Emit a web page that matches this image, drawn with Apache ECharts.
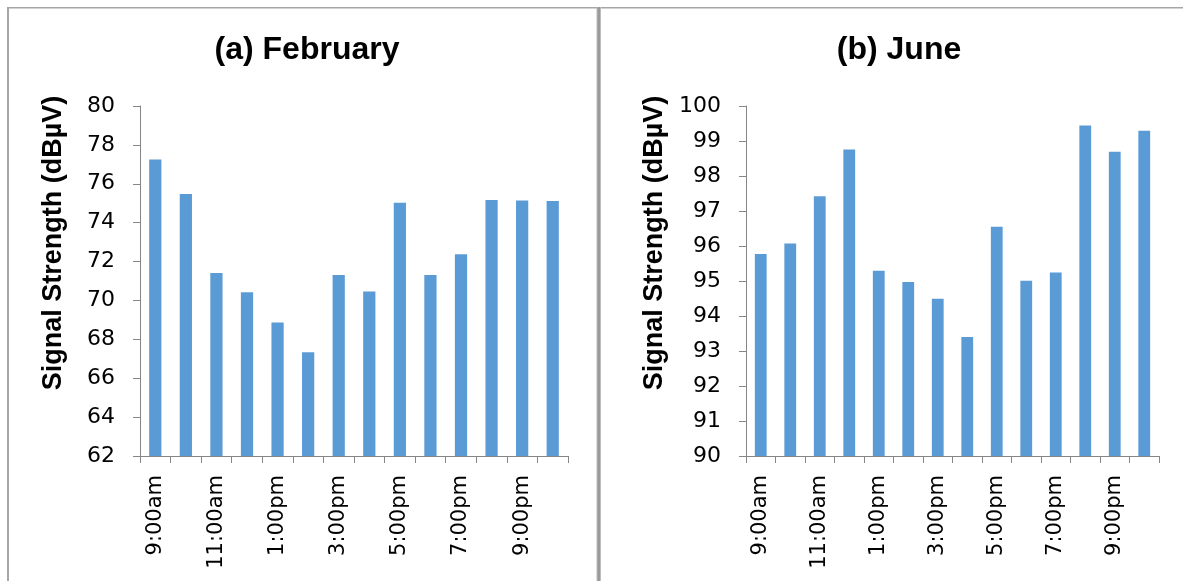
<!DOCTYPE html>
<html>
<head>
<meta charset="utf-8">
<script src="https://cdn.jsdelivr.net/npm/echarts@6/dist/echarts.min.js"></script>
<style>
  html, body { margin: 0; padding: 0; background: #ffffff; }
  #chart { width: 1183px; height: 581px; }
</style>
</head>
<body>
<div id="chart"></div>
<script>
// Hourly measurement slots
const hours = ['9:00am', '10:00am', '11:00am', '12:00pm', '1:00pm', '2:00pm', '3:00pm',
               '4:00pm', '5:00pm', '6:00pm', '7:00pm', '8:00pm', '9:00pm', '10:00pm'];

// Mean signal strength per hour (dBµV)
const februaryValues = [77.25, 75.48, 71.41, 70.42, 68.86, 67.33, 71.31,
                        70.46, 75.03, 71.31, 72.38, 75.17, 75.14, 75.12];
const juneValues = [95.77, 96.07, 97.42, 98.76, 95.29, 94.97, 94.49,
                    93.40, 96.55, 95.01, 95.24, 99.44, 98.69, 99.29];

// Panel titles and axis label
const panelTitles = ['(a) February', '(b) June'];
const yAxisName = 'Signal Strength (dBµV)';

const barColor = '#5B9BD5';
const axisColor = '#868686';
const tickFont = 'DejaVu Sans';
const boldFont = 'Liberation Sans';

function xAxisFor(gridIndex) {
  return {
    type: 'category',
    gridIndex: gridIndex,
    data: hours,
    axisLine: { lineStyle: { color: axisColor, width: 1 } },
    axisTick: { show: true, interval: 0, length: 7, lineStyle: { color: axisColor } },
    axisLabel: {
      interval: 1,
      rotate: 90,
      margin: 19,
      color: '#000000',
      fontFamily: tickFont,
      fontSize: 21
    }
  };
}

function yAxisFor(gridIndex, min, max, interval, gap) {
  return {
    type: 'value',
    gridIndex: gridIndex,
    min: min,
    max: max,
    interval: interval,
    name: yAxisName,
    nameLocation: 'middle',
    nameGap: gap,
    nameRotate: 90,
    nameTextStyle: {
      fontFamily: boldFont,
      fontWeight: 'bold',
      fontSize: 27,
      color: '#000000',
      // lift the rotated name above the axis midpoint
      padding: [0, 0, 0, 76]
    },
    axisLine: { show: true, lineStyle: { color: axisColor, width: 1 } },
    axisTick: { show: true, length: 7, lineStyle: { color: axisColor } },
    splitLine: { show: false },
    axisLabel: {
      margin: 25,
      color: '#000000',
      fontFamily: tickFont,
      fontSize: 22
    }
  };
}

const chart = echarts.init(document.getElementById('chart'), null, { renderer: 'canvas' });

chart.setOption({
  backgroundColor: '#ffffff',
  animation: false,
  title: [
    {
      text: panelTitles[0],
      left: 302, top: 29, textAlign: 'center',
      textStyle: { fontFamily: boldFont, fontWeight: 'bold', fontSize: 32, color: '#000000' }
    },
    {
      text: panelTitles[1],
      left: 894, top: 29, textAlign: 'center',
      textStyle: { fontFamily: boldFont, fontWeight: 'bold', fontSize: 32, color: '#000000' }
    }
  ],
  grid: [
    { left: 140, right: 615, top: 106, bottom: 125, containLabel: false },
    { left: 746, right: 24, top: 106, bottom: 125, containLabel: false }
  ],
  xAxis: [xAxisFor(0), xAxisFor(1)],
  yAxis: [yAxisFor(0, 62, 80, 2, 73), yAxisFor(1, 90, 100, 1, 78)],
  series: [
    {
      type: 'bar',
      xAxisIndex: 0, yAxisIndex: 0,
      data: februaryValues,
      barCategoryGap: '60%',
      itemStyle: { color: barColor }
    },
    {
      type: 'bar',
      xAxisIndex: 1, yAxisIndex: 1,
      data: juneValues,
      barCategoryGap: '60%',
      itemStyle: { color: barColor }
    }
  ],
  graphic: [
    // outer frame: top edge and left edge
    { type: 'rect', shape: { x: 7, y: 7, width: 1176, height: 1.5 }, style: { fill: '#a6a6a6' }, silent: true },
    { type: 'rect', shape: { x: 7, y: 7, width: 2, height: 574 }, style: { fill: '#a6a6a6' }, silent: true },
    // divider between the two panels
    { type: 'rect', shape: { x: 596.5, y: 7, width: 4.5, height: 574 }, style: { fill: '#bdbdbd' }, silent: true },
    { type: 'rect', shape: { x: 597.5, y: 7, width: 2.5, height: 574 }, style: { fill: '#9a9a9a' }, silent: true }
  ]
});
</script>
</body>
</html>
